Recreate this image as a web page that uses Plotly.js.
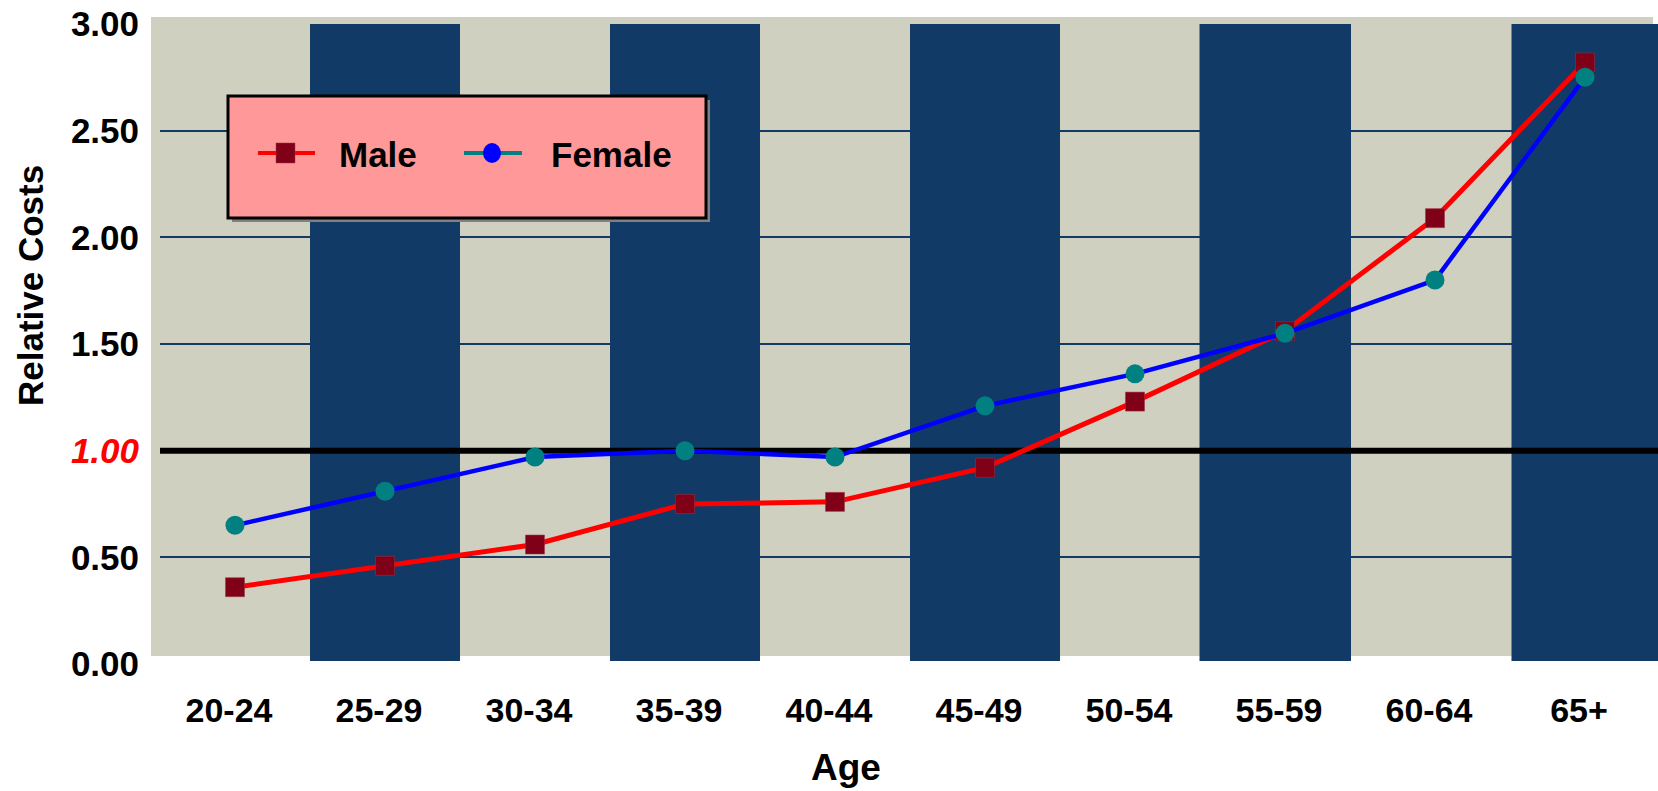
<!DOCTYPE html>
<html>
<head>
<meta charset="utf-8">
<script src="https://cdn.plot.ly/plotly-3.0.1.min.js"></script>
<style>
  html, body { margin: 0; padding: 0; background: #ffffff; }
  #chart { width: 1658px; height: 791px; }
</style>
</head>
<body>
<div id="chart"></div>
<script>
// Relative health costs by age band, male vs female
const ageGroups = ['20-24', '25-29', '30-34', '35-39', '40-44', '45-49', '50-54', '55-59', '60-64', '65+'];
const maleCosts = [0.36, 0.46, 0.56, 0.75, 0.76, 0.92, 1.23, 1.56, 2.09, 2.82];
const femaleCosts = [0.65, 0.81, 0.97, 1.00, 0.97, 1.21, 1.36, 1.55, 1.80, 2.75];
const yTickValues = [0, 0.5, 1, 1.5, 2, 2.5, 3];
const yTickLabels = ['0.00', '0.50', '<span style="color:#FF0000"><i>1.00</i></span>', '1.50', '2.00', '2.50', '3.00'];
const baselineValue = 1.0;

// page geometry
const W = 1658, H = 791;
const M = { l: 160, r: 0, t: 24, b: 127 };
const plotW = W - M.l - M.r, plotH = H - M.t - M.b;
const px = x => (x - M.l) / plotW;          // pixel -> paper x
const py = y => (H - M.b - y) / plotH;      // pixel -> paper y
const bandWidth = 150;                       // pixels per age band
const xMax = (W - M.l) / bandWidth - 0.5;    // axis ends at the page edge

const FONT = 'Liberation Sans, Arial, Helvetica, sans-serif';
const BEIGE = '#D0D0C1';
const NAVY = '#123A67';

const xIndex = ageGroups.map((_, i) => i);

// alternating dark columns behind every second age band
const darkBands = [[0.5, 1.5], [2.5, 3.5], [4.5, 5.5], [6.43, 7.44], [8.51, 9.6]];

const shapes = [];
// back wall
shapes.push({ type: 'rect', xref: 'paper', yref: 'paper', layer: 'below',
  x0: px(151), x1: px(1653), y0: py(656), y1: py(17),
  fillcolor: BEIGE, line: { width: 0 } });
darkBands.forEach(b => shapes.push({ type: 'rect', xref: 'x', yref: 'paper', layer: 'below',
  x0: b[0], x1: b[1], y0: py(661), y1: 1,
  fillcolor: NAVY, line: { width: 0 } }));

// legend panel
const lg = { x0: 228, x1: 706, y0: 96, y1: 218 };
shapes.push({ type: 'rect', xref: 'paper', yref: 'paper', layer: 'above',
  x0: px(lg.x0 + 4), x1: px(lg.x1 + 4), y0: py(lg.y1 + 4), y1: py(lg.y0 + 4),
  fillcolor: '#808080', line: { width: 0 } });
shapes.push({ type: 'rect', xref: 'paper', yref: 'paper', layer: 'above',
  x0: px(lg.x0), x1: px(lg.x1), y0: py(lg.y1), y1: py(lg.y0),
  fillcolor: '#FF9999', line: { color: '#000000', width: 3 } });
const ly = 153;
shapes.push({ type: 'line', xref: 'paper', yref: 'paper', layer: 'above',
  x0: px(258), x1: px(315), y0: py(ly), y1: py(ly), line: { color: '#FF0000', width: 4 } });
shapes.push({ type: 'rect', xref: 'paper', yref: 'paper', layer: 'above',
  x0: px(276), x1: px(295), y0: py(ly + 10), y1: py(ly - 10),
  fillcolor: '#800018', line: { color: '#A03040', width: 0.5 } });
shapes.push({ type: 'line', xref: 'paper', yref: 'paper', layer: 'above',
  x0: px(464), x1: px(522), y0: py(ly), y1: py(ly), line: { color: '#008080', width: 4 } });
shapes.push({ type: 'circle', xref: 'paper', yref: 'paper', layer: 'above',
  x0: px(483), x1: px(501), y0: py(ly + 10), y1: py(ly - 10),
  fillcolor: '#0000FF', line: { width: 0 } });

const annotations = [
  { text: 'Male', xref: 'paper', yref: 'paper', x: px(337), y: py(ly + 1), xanchor: 'left', yanchor: 'middle',
    showarrow: false, font: { family: FONT, size: 35, weight: 'bold', color: '#000000' } },
  { text: 'Female', xref: 'paper', yref: 'paper', x: px(549), y: py(ly + 1), xanchor: 'left', yanchor: 'middle',
    showarrow: false, font: { family: FONT, size: 35, weight: 'bold', color: '#000000' } },
  { text: 'Age', xref: 'paper', yref: 'paper', x: px(846), y: py(767), xanchor: 'center', yanchor: 'middle',
    showarrow: false, font: { family: FONT, size: 37, weight: 'bold', color: '#000000' } },
  { text: 'Relative Costs', xref: 'paper', yref: 'paper', x: px(30), y: py(286), xanchor: 'center', yanchor: 'middle',
    textangle: -90, showarrow: false, font: { family: FONT, size: 35, weight: 'bold', color: '#000000' } },
  { text: '3', xref: 'paper', yref: 'paper', x: px(49), y: py(784), xanchor: 'center', yanchor: 'top',
    showarrow: false, font: { family: FONT, size: 24, weight: 'bold', color: '#000000' } }
];

const traces = [
  // heavy reference line at relative cost 1.00, under the series
  { type: 'scatter', mode: 'lines', name: 'Baseline', x: [-0.5, xMax], y: [baselineValue, baselineValue],
    line: { color: '#000000', width: 6 }, showlegend: false, hoverinfo: 'skip', cliponaxis: true },
  { type: 'scatter', mode: 'lines+markers', name: 'Male', x: xIndex, y: maleCosts,
    line: { color: '#FF0000', width: 5 },
    marker: { symbol: 'square', size: 19, color: '#800018', line: { color: '#A03040', width: 0.5 } },
    showlegend: false, hoverinfo: 'skip', cliponaxis: false },
  { type: 'scatter', mode: 'lines+markers', name: 'Female', x: xIndex, y: femaleCosts,
    line: { color: '#0000FF', width: 4.5 },
    marker: { symbol: 'circle', size: 19, color: '#008080' },
    showlegend: false, hoverinfo: 'skip', cliponaxis: false }
];

const layout = {
  width: W, height: H,
  margin: M,
  paper_bgcolor: '#ffffff',
  plot_bgcolor: 'rgba(0,0,0,0)',
  showlegend: false,
  xaxis: {
    range: [-0.5, xMax],
    tickvals: xIndex, ticktext: ageGroups,
    showgrid: false, zeroline: false, showline: false,
    ticks: 'outside', ticklen: 16, tickcolor: 'rgba(0,0,0,0)',
    ticklabelshift: -6,
    tickfont: { family: FONT, size: 34, weight: 'bold', color: '#000000' },
    fixedrange: true
  },
  yaxis: {
    range: [0, 3],
    tickvals: yTickValues, ticktext: yTickLabels,
    showgrid: true, gridcolor: NAVY, gridwidth: 2,
    zeroline: true, zerolinecolor: 'rgba(0,0,0,0)',
    showline: false,
    ticks: 'outside', ticklen: 13, tickcolor: 'rgba(0,0,0,0)',
    tickfont: { family: FONT, size: 35, weight: 'bold', color: '#000000' },
    fixedrange: true
  },
  shapes: shapes,
  annotations: annotations
};

Plotly.newPlot('chart', traces, layout, { staticPlot: true, displayModeBar: false });
</script>
</body>
</html>
